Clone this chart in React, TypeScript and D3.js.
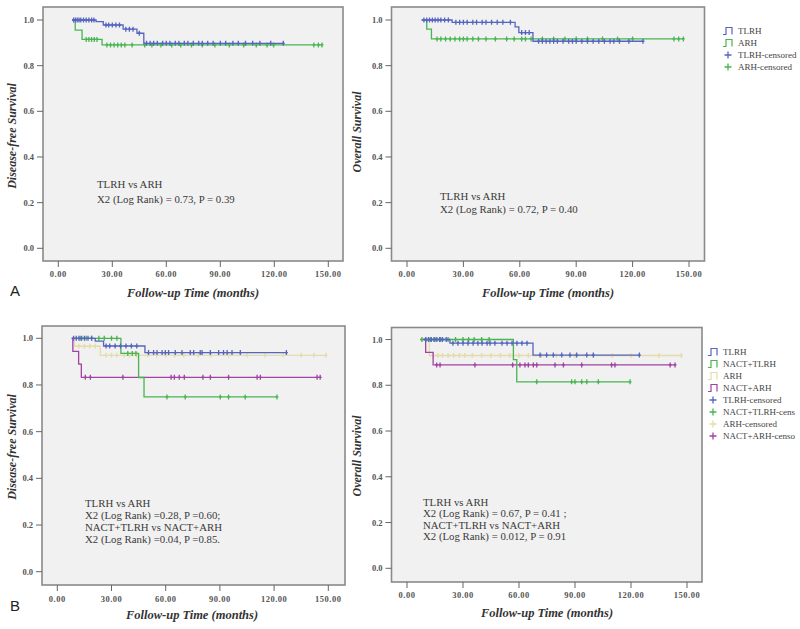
import React from "react";
import * as d3 from "d3";

// ---------- data ----------
const xTicks = [0, 30, 60, 90, 120, 150];
const xTickLabels = ["0.00", "30.00", "60.00", "90.00", "120.00", "150.00"];
const yTicks = [0, 0.2, 0.4, 0.6, 0.8, 1.0];
const yTickLabels = ["0.0", "0.2", "0.4", "0.6", "0.8", "1.0"];

// Panel A – Disease-free survival
const aDfsTlrhRange = [7.6, 125];
const aDfsTlrhSteps = [[21, 0.993], [25, 0.978], [36, 0.96], [43.7, 0.942], [47.5, 0.898]];
const aDfsTlrhCens = [8.5, 9.5, 10.5, 11.5, 12.5, 14, 15.5, 17, 18.5, 19.8, 26.5, 28, 30, 32, 34, 37.5, 39.5, 41.5, 45, 49, 51, 53, 55, 58, 60, 62, 65, 67, 70, 72, 75, 78, 80, 83, 86, 90, 93, 97, 100, 104, 108, 112, 118, 125];
const aDfsArhRange = [7.6, 146.5];
const aDfsArhSteps = [[9.4, 0.956], [13.2, 0.915], [24.3, 0.891]];
const aDfsArhCens = [15.5, 17, 18.5, 20, 21.5, 27, 29, 31, 33, 35, 37, 41, 48, 52, 57, 63, 68, 74, 80, 87, 95, 103, 110, 116, 119.6, 142, 144.5, 146.5];

// Panel A – Overall survival
const aOsTlrhRange = [7.8, 125.5];
const aOsTlrhSteps = [[24, 0.99], [57.5, 0.97], [59.5, 0.945], [67, 0.907]];
const aOsTlrhCens = [9, 10.5, 12, 13.5, 15, 16.5, 18, 20, 22, 26, 28, 30, 32, 35, 37, 40, 42, 45, 48, 51, 55, 61, 63, 65, 70, 72, 74, 76, 78, 80, 83, 86, 88, 90, 93, 96, 99, 102, 105, 108, 110, 113, 118, 125.5];
const aOsArhRange = [7.8, 147];
const aOsArhSteps = [[10.5, 0.96], [13, 0.917]];
const aOsArhCens = [16, 18, 20.5, 23, 25.5, 28, 30, 32, 35, 38, 42, 47, 53, 57, 61, 63, 66, 72, 78, 84, 90, 96, 104, 112, 120, 142, 144.5, 147];

// Panel B – Disease-free survival
const bDfsTlrhRange = [8, 126.8];
const bDfsTlrhSteps = [[21, 0.988], [25.6, 0.967], [48.5, 0.939]];
const bDfsTlrhCens = [9, 10.5, 12, 13.5, 15, 17, 19, 27, 29, 32, 35, 38, 41, 44, 50.5, 53.3, 55.2, 58, 59.8, 61.6, 65.3, 69, 73.6, 75.5, 79.1, 80.1, 84.7, 89.3, 92, 94, 96.7, 101.3, 126.8];
const bDfsNtlrhRange = [8, 121.6];
const bDfsNtlrhSteps = [[35.2, 0.935], [45, 0.832], [48, 0.749]];
const bDfsNtlrhCens = [12.7, 16, 19, 23, 26, 30, 33, 39, 41.5, 43.5, 60.7, 70.8, 90.2, 94.8, 104, 121.6];
const bDfsArhRange = [8, 148.7];
const bDfsArhSteps = [[9.5, 0.966], [23.8, 0.927]];
const bDfsArhCens = [12, 15, 18, 21, 27, 30, 33, 37, 40, 44, 50, 55, 60, 65, 70, 78, 85, 95, 105, 115, 125, 135, 142, 148.7];
const bDfsNarhRange = [8, 146];
const bDfsNarhSteps = [[8.6, 0.944], [11.8, 0.889], [13.3, 0.833]];
const bDfsNarhCens = [15.5, 18.3, 36.3, 63, 64.8, 67.5, 70.3, 80.6, 84.7, 94.8, 110.6, 112.4, 143.8, 145.5];

// Panel B – Overall survival
const bOsTlrhRange = [8.75, 124.5];
const bOsTlrhSteps = [[23, 0.984], [67.5, 0.932]];
const bOsTlrhCens = [10, 11.5, 13, 14.5, 16, 17.5, 19, 21, 24.6, 27.3, 30, 32.7, 35.4, 38, 40.2, 42.9, 44.5, 47.1, 50.9, 53.6, 56.3, 58.9, 61.6, 64.3, 71.3, 74.8, 78.4, 82.9, 87.3, 90.9, 96.3, 99.8, 124.5];
const bOsNtlrhRange = [7, 119.5];
const bOsNtlrhSteps = [[57, 0.912], [58.8, 0.815]];
const bOsNtlrhCens = [8, 10, 12.5, 15, 18, 22, 26, 30, 33, 36, 40, 44, 69.5, 88.2, 90, 93.6, 96.3, 102.5, 119.5];
const bOsArhRange = [8, 147];
const bOsArhSteps = [[12, 0.93]];
const bOsArhCens = [14, 16.5, 19, 22, 25, 28, 31, 35, 40, 45, 50, 55, 60, 65, 72, 80, 90, 100, 110, 120, 135, 147];
const bOsNarhRange = [9, 143.6];
const bOsNarhSteps = [[10, 0.944], [14, 0.889]];
const bOsNarhCens = [15.9, 17.7, 36.4, 56.6, 60.5, 63.2, 65, 67.7, 69.5, 79.3, 83.8, 93.6, 109.6, 111.4, 141, 143.6];

const legendA = ["TLRH", "ARH", "TLRH-censored", "ARH-censored"];
const legendB = ["TLRH", "NACT+TLRH", "ARH", "NACT+ARH", "TLRH-censored", "NACT+TLRH-cens", "ARH-censored", "NACT+ARH-censo"];

const annoA1 = ["TLRH vs ARH", "X2 (Log Rank) = 0.73, P = 0.39"];
const annoA2 = ["TLRH vs ARH", "X2 (Log Rank) = 0.72, P = 0.40"];
const annoB1 = ["TLRH vs ARH", "X2 (Log Rank) =0.28, P =0.60;", "NACT+TLRH vs NACT+ARH", "X2 (Log Rank) =0.04, P =0.85."];
const annoB2 = ["TLRH vs ARH", "X2 (Log Rank) = 0.67, P = 0.41 ;", "NACT+TLRH vs NACT+ARH", "X2 (Log Rank) = 0.012, P = 0.91"];

// ---------- styling ----------
const C_BLUE = "#5565c0";
const C_GREEN = "#48b552";
const C_BEIGE = "#e4dcaa";
const C_PURPLE = "#a043a3";
const SERIF = "'Liberation Serif', 'DejaVu Serif', serif";

type Series = { color: string; range: number[]; steps: number[][]; cens: number[] };

function survAt(steps: number[][], t: number) {
  let s = 1;
  for (const [st, sv] of steps) if (st <= t) s = sv;
  return s;
}

type PanelProps = {
  box: [number, number, number, number];
  xr: [number, number];
  yr: [number, number];
  series: Series[];
  ytitle: string;
  ytitleX: number;
  ytitleY: number;
  xtitleX: number;
  xtitleY: number;
  tickLabelY: number;
  anno: string[];
  annoX: number;
  annoY: number;
  annoDy: number;
};

function Panel(p: PanelProps) {
  const [x0, y0, x1, y1] = p.box;
  const x = d3.scaleLinear().domain([0, 150]).range(p.xr);
  const y = d3.scaleLinear().domain([0, 1]).range(p.yr);
  const line = d3
    .line<number[]>()
    .x((d) => x(d[0]))
    .y((d) => y(d[1]))
    .curve(d3.curveStepAfter);
  return (
    <g>
      <rect x={x0} y={y0} width={x1 - x0} height={y1 - y0} fill="#f1f1f1" stroke="#8a8a8a" strokeWidth={1.6} />
      {yTicks.map((t, i) => (
        <g key={"y" + i}>
          <line x1={x0 - 6} x2={x0} y1={y(t)} y2={y(t)} stroke="#666" strokeWidth={1} />
          <text x={x0 - 9} y={y(t) + 3} fontSize={8.5} fontFamily={SERIF} fill="#555" textAnchor="end" fontWeight="bold">
            {yTickLabels[i]}
          </text>
        </g>
      ))}
      {xTicks.map((t, i) => (
        <g key={"x" + i}>
          <line x1={x(t)} x2={x(t)} y1={y1} y2={y1 + 6} stroke="#666" strokeWidth={1} />
          <text x={x(t)} y={p.tickLabelY} fontSize={8.5} fontFamily={SERIF} fill="#555" textAnchor="middle" fontWeight="bold" letterSpacing={0.5}>
            {xTickLabels[i]}
          </text>
        </g>
      ))}
      {p.series.map((s, i) => {
        const last = s.steps.length ? s.steps[s.steps.length - 1][1] : 1;
        const pts = [[s.range[0], 1], ...s.steps, [s.range[1], last]];
        return (
          <g key={"s" + i}>
            <path d={line(pts) || ""} fill="none" stroke={s.color} strokeWidth={1.3} />
            {s.cens.map((c, j) => {
              const cx = x(c);
              const cy = y(survAt(s.steps, c));
              return (
                <path key={j} d={`M${cx},${cy - 2.5}V${cy + 2.5}M${cx - 1.5},${cy}H${cx + 1.5}`} stroke={s.color} strokeWidth={1.3} />
              );
            })}
          </g>
        );
      })}
      {p.anno.map((l, i) => (
        <text key={"a" + i} x={p.annoX} y={p.annoY + i * p.annoDy} fontSize={10.8} fontFamily={SERIF} fill="#3a3a3a">
          {l}
        </text>
      ))}
      <text
        x={p.xtitleX}
        y={p.xtitleY}
        fontSize={12.5}
        fontFamily={SERIF}
        fontStyle="italic"
        fontWeight="bold"
        fill="#333"
        textAnchor="middle"
      >
        Follow-up Time (months)
      </text>
      <text
        transform={`translate(${p.ytitleX},${p.ytitleY}) rotate(-90)`}
        fontSize={12}
        fontFamily={SERIF}
        fontStyle="italic"
        fontWeight="bold"
        fill="#333"
        textAnchor="middle"
      >
        {p.ytitle}
      </text>
    </g>
  );
}

function Legend({ x, y, dy, labels, colors }: { x: number; y: number; dy: number; labels: string[]; colors: string[] }) {
  const n = colors.length;
  return (
    <g>
      {labels.map((l, i) => {
        const cy = y + i * dy;
        const col = colors[i % n];
        const isCens = i >= n;
        return (
          <g key={i}>
            {isCens ? (
              <path d={`M${x + 5},${cy - 3.5}V${cy + 3.5}M${x + 1.5},${cy}H${x + 8.5}`} stroke={col} strokeWidth={1.3} fill="none" />
            ) : (
              <path d={`M${x},${cy + 3.5}H${x + 3}V${cy - 3.5}H${x + 9}V${cy + 3.5}`} stroke={col} strokeWidth={1.2} fill="none" />
            )}
            <text x={x + 15} y={cy + 3.2} fontSize={9} fontFamily={SERIF} fill="#444">
              {l}
            </text>
          </g>
        );
      })}
    </g>
  );
}

export default function App() {
  const aDfs: Series[] = [
    { color: C_GREEN, range: aDfsArhRange, steps: aDfsArhSteps, cens: aDfsArhCens },
    { color: C_BLUE, range: aDfsTlrhRange, steps: aDfsTlrhSteps, cens: aDfsTlrhCens },
  ];
  const aOs: Series[] = [
    { color: C_GREEN, range: aOsArhRange, steps: aOsArhSteps, cens: aOsArhCens },
    { color: C_BLUE, range: aOsTlrhRange, steps: aOsTlrhSteps, cens: aOsTlrhCens },
  ];
  const bDfs: Series[] = [
    { color: C_BEIGE, range: bDfsArhRange, steps: bDfsArhSteps, cens: bDfsArhCens },
    { color: C_PURPLE, range: bDfsNarhRange, steps: bDfsNarhSteps, cens: bDfsNarhCens },
    { color: C_GREEN, range: bDfsNtlrhRange, steps: bDfsNtlrhSteps, cens: bDfsNtlrhCens },
    { color: C_BLUE, range: bDfsTlrhRange, steps: bDfsTlrhSteps, cens: bDfsTlrhCens },
  ];
  const bOs: Series[] = [
    { color: C_BEIGE, range: bOsArhRange, steps: bOsArhSteps, cens: bOsArhCens },
    { color: C_PURPLE, range: bOsNarhRange, steps: bOsNarhSteps, cens: bOsNarhCens },
    { color: C_GREEN, range: bOsNtlrhRange, steps: bOsNtlrhSteps, cens: bOsNtlrhCens },
    { color: C_BLUE, range: bOsTlrhRange, steps: bOsTlrhSteps, cens: bOsTlrhCens },
  ];
  return (
    <svg width={800} height={629} style={{ position: "absolute", left: 0, top: 0, background: "#fff" }}>
      <rect width={800} height={629} fill="#fff" />
      <Panel
        box={[43, 7, 343, 261]}
        xr={[58.3, 328.3]}
        yr={[248.3, 20]}
        series={aDfs}
        ytitle="Disease-free Survival"
        ytitleX={16}
        ytitleY={136}
        xtitleX={193}
        xtitleY={297}
        tickLabelY={277}
        anno={annoA1}
        annoX={97}
        annoY={188}
        annoDy={15}
      />
      <Panel
        box={[391.5, 7, 704.5, 261]}
        xr={[407, 689]}
        yr={[248.3, 20]}
        series={aOs}
        ytitle="Overall Survival"
        ytitleX={361}
        ytitleY={132}
        xtitleX={548}
        xtitleY={297}
        tickLabelY={277}
        anno={annoA2}
        annoX={440}
        annoY={200}
        annoDy={12.5}
      />
      <Panel
        box={[42, 326, 345, 585]}
        xr={[57.3, 328.3]}
        yr={[571.7, 338.3]}
        series={bDfs}
        ytitle="Disease-free Survival"
        ytitleX={16}
        ytitleY={447}
        xtitleX={192}
        xtitleY={619}
        tickLabelY={602}
        anno={annoB1}
        annoX={85}
        annoY={506.5}
        annoDy={12.3}
      />
      <Panel
        box={[391.5, 327.5, 702, 582]}
        xr={[407, 687]}
        yr={[568.3, 339.5]}
        series={bOs}
        ytitle="Overall Survival"
        ytitleX={361}
        ytitleY={456}
        xtitleX={547}
        xtitleY={617}
        tickLabelY={598}
        anno={annoB2}
        annoX={423}
        annoY={506}
        annoDy={11.3}
      />
      <Legend x={723} y={31} dy={12} labels={legendA} colors={[C_BLUE, C_GREEN]} />
      <Legend x={708} y={352} dy={12} labels={legendB} colors={[C_BLUE, C_GREEN, C_BEIGE, C_PURPLE]} />
      <text x={10} y={296} fontSize={15} fontFamily="'Liberation Sans', Arial, sans-serif" fill="#222">
        A
      </text>
      <text x={10} y={611} fontSize={15} fontFamily="'Liberation Sans', Arial, sans-serif" fill="#222">
        B
      </text>
    </svg>
  );
}
